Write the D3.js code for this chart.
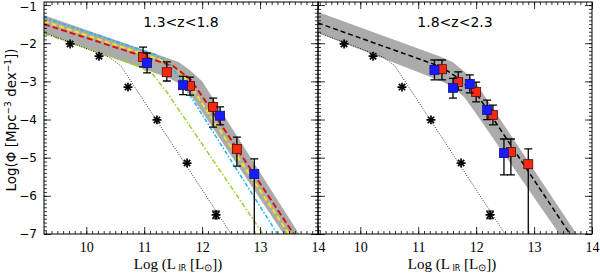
<!DOCTYPE html>
<html>
<head>
<meta charset="utf-8">
<script src="https://cdn.jsdelivr.net/npm/d3@7"></script>
<style>
body { margin: 0; background: #fff; }
</style>
</head>
<body>
<svg id="chart"></svg>
<script>
const xTicks = [10, 11, 12, 13, 14];
const yTicks = [-1, -2, -3, -4, -5, -6, -7];
const panelTitles = ['1.3<z<1.8', '1.8<z<2.3'];

// local luminosity function (asterisks + dotted fit), same in both panels
const localL = [9.72, 10.22, 10.72, 11.22, 11.74, 12.24];
const localPhi = [-2.02, -2.34, -3.15, -4.01, -5.14, -6.5];
const localErr = [0, 0, 0, 0, 0, 0.1];
const localFitL = [9.27, 10.4, 10.6, 12.5];
const localFitPhi = [-1.72, -2.37, -2.6, -7.0];

// 1.3<z<1.8
const bandL = [9.27, 11.4, 11.6, 11.8, 12.0, 13.8];
const band1Hi = [-1.27, -2.39, -2.5, -2.72, -3.0, -7.3];
const band1Lo = [-1.73, -2.9, -3.05, -3.35, -3.8, -7.9];
const cyanL = [9.27, 11.2, 11.45, 11.7, 13.3];
const cyanPhi = [-1.33, -2.3, -2.55, -3.15, -7.0];
const yellowL = [9.27, 11.4, 11.65, 11.9, 13.5];
const yellowPhi = [-1.42, -2.5, -2.8, -3.35, -7.0];
const redFitL = [9.27, 11.5, 11.8, 12.05, 13.58];
const redFitPhi = [-1.5, -2.6, -2.95, -3.5, -7.0];
const greenL = [9.27, 10.9, 11.15, 11.4, 13.05];
const greenPhi = [-1.75, -2.6, -2.82, -3.3, -7.0];

const red1L = [10.98, 11.39, 11.79, 12.19, 12.6];
const red1Phi = [-2.36, -2.76, -3.12, -3.67, -4.77];
const red1Hi = [-2.1, -2.49, -2.89, -3.44, -4.46];
const red1Lo = [-2.62, -2.99, -3.36, -4.2, -5.22];
const blue1L = [11.05, 11.67, 12.31, 12.9];
const blue1Phi = [-2.52, -3.1, -3.9, -5.43];
const blue1Hi = [-2.26, -2.87, -3.67, -5.03];
const blue1Lo = [-2.78, -3.35, -4.14, -7.0];

// 1.8<z<2.3
const band2Hi = [-1.18, -2.36, -2.5, -2.75, -3.05, -7.15];
const band2Lo = [-1.73, -3.0, -3.15, -3.42, -3.85, -7.8];
const fit2L = [9.27, 11.4, 11.7, 12.05, 13.62];
const fit2Phi = [-1.47, -2.62, -2.92, -3.42, -7.0];

const red2L = [11.41, 11.69, 12.0, 12.29, 12.6, 12.9];
const red2Phi = [-2.68, -3.02, -3.28, -3.88, -4.85, -5.17];
const red2Hi = [-2.44, -2.75, -3.02, -3.62, -4.51, -4.77];
const red2Lo = [-2.96, -3.23, -3.54, -4.14, -5.45, -7.0];
const blue2L = [11.28, 11.6, 11.89, 12.19, 12.48];
const blue2Phi = [-2.70, -3.17, -3.07, -3.75, -4.88];
const blue2Hi = [-2.44, -2.92, -2.83, -3.49, -4.51];
const blue2Lo = [-2.96, -3.44, -3.3, -4.0, -5.45];

const width = 600, height = 273;
const plotTop = 2, plotBottom = 234;

const svg = d3.select('#chart')
    .attr('width', width)
    .attr('height', height);

const pts = (xs, ys) => xs.map((d, i) => [d, ys[i]]);
const bars = (xs, ys, hi, lo) => xs.map((d, i) => ({x: d, y: ys[i], hi: hi[i], lo: lo[i]}));

const panels = [
    {
        left: 44, right: 318, title: panelTitles[0],
        band: bandL.map((d, i) => ({x: d, hi: band1Hi[i], lo: band1Lo[i]})),
        lines: [
            {data: pts(greenL, greenPhi), color: '#9ad12f', dash: '5,2,1.5,2', w: 1.5},
            {data: pts(cyanL, cyanPhi), color: '#18b4f0', dash: '4,2,1.5,2', w: 1.5},
            {data: pts(yellowL, yellowPhi), color: '#f2e51a', dash: '5,3', w: 2},
            {data: pts(redFitL, redFitPhi), color: '#d81010', dash: '6,3', w: 2}
        ],
        blue: bars(blue1L, blue1Phi, blue1Hi, blue1Lo),
        red: bars(red1L, red1Phi, red1Hi, red1Lo),
        yLabels: true
    },
    {
        left: 318, right: 592, title: panelTitles[1],
        band: bandL.map((d, i) => ({x: d, hi: band2Hi[i], lo: band2Lo[i]})),
        lines: [
            {data: pts(fit2L, fit2Phi), color: '#000', dash: '5,3', w: 1.5}
        ],
        blue: bars(blue2L, blue2Phi, blue2Hi, blue2Lo),
        red: bars(red2L, red2Phi, red2Hi, red2Lo),
        yLabels: false
    }
];

const y = d3.scaleLinear().domain([-7, -0.92]).range([plotBottom, plotTop]);

panels.forEach((p, k) => {
    const x = d3.scaleLinear().domain([9.27, 14]).range([p.left, p.right]);
    const line = d3.line().x(d => x(d[0])).y(d => y(d[1]));
    const g = svg.append('g');

    g.append('clipPath').attr('id', 'clip' + k)
        .append('rect')
        .attr('x', p.left).attr('y', plotTop)
        .attr('width', p.right - p.left).attr('height', plotBottom - plotTop);

    const plot = g.append('g').attr('clip-path', `url(#clip${k})`);

    plot.append('path')
        .datum(p.band)
        .attr('fill', '#ababab')
        .attr('d', d3.area()
            .x(d => x(d.x))
            .y0(d => y(d.lo))
            .y1(d => y(d.hi)));

    p.lines.forEach(l => {
        plot.append('path')
            .datum(l.data)
            .attr('fill', 'none')
            .attr('stroke', l.color)
            .attr('stroke-width', l.w)
            .attr('stroke-dasharray', l.dash)
            .attr('d', line);
    });

    plot.append('path')
        .datum(pts(localFitL, localFitPhi))
        .attr('fill', 'none')
        .attr('stroke', '#000')
        .attr('stroke-width', 0.8)
        .attr('stroke-dasharray', '1,1.5')
        .attr('d', line);

    // asterisks
    const stars = localL.map((d, i) => ({x: d, y: localPhi[i], e: localErr[i]}));
    stars.filter(d => d.e > 0).forEach(d => {
        plot.append('path')
            .attr('stroke', '#000').attr('stroke-width', 1.2)
            .attr('d', `M${x(d.x)},${y(d.y + d.e)}V${y(d.y - d.e)}` +
                `M${x(d.x) - 4},${y(d.y + d.e)}h8M${x(d.x) - 4},${y(d.y - d.e)}h8`);
    });
    [d3.symbolPlus, d3.symbolX].forEach(sym => {
        plot.selectAll(null)
            .data(stars)
            .enter()
            .append('path')
            .attr('transform', d => `translate(${x(d.x)},${y(d.y)})`)
            .attr('d', d3.symbol(sym, 28))
            .attr('fill', 'none')
            .attr('stroke', '#000')
            .attr('stroke-width', 1.7);
    });

    // error bars and squares
    const drawPoints = (data, fill, stroke) => {
        plot.selectAll(null)
            .data(data)
            .enter()
            .append('path')
            .attr('stroke', '#000')
            .attr('stroke-width', 1.3)
            .attr('fill', 'none')
            .attr('d', d => `M${x(d.x)},${y(d.hi)}V${y(d.lo)}` +
                `M${x(d.x) - 4},${y(d.hi)}h8` +
                (d.lo > -7 ? `M${x(d.x) - 4},${y(d.lo)}h8` : ''));
        plot.selectAll(null)
            .data(data)
            .enter()
            .append('rect')
            .attr('x', d => x(d.x) - 4.5)
            .attr('y', d => y(d.y) - 4.5)
            .attr('width', 9)
            .attr('height', 9)
            .attr('fill', fill)
            .attr('stroke', stroke)
            .attr('stroke-width', 0.8);
    };
    drawPoints(p.red, '#f22a10', '#5a0a00');
    drawPoints(p.blue, '#1a1aff', '#10108a');

    // axes: ticks point inward, like IDL
    const minorX = d3.range(93, 141).map(d => d / 10);
    const minorY = d3.range(-70, -9).map(d => d / 10);
    const addAxis = (axis, tx, ty) => {
        const a = g.append('g').attr('transform', `translate(${tx},${ty})`).call(axis);
        a.select('.domain').remove();
        a.selectAll('line').attr('stroke', '#000').attr('stroke-width', 0.8);
        return a;
    };
    const bx = addAxis(d3.axisBottom(x).tickValues(xTicks).tickSize(-7).tickPadding(8)
        .tickFormat(d3.format('d')), 0, plotBottom);
    bx.selectAll('text')
        .attr('font-family', 'Liberation Serif, serif')
        .attr('font-size', 14)
        .attr('fill', '#000');
    addAxis(d3.axisBottom(x).tickValues(minorX).tickSize(-3).tickFormat(''), 0, plotBottom);
    addAxis(d3.axisTop(x).tickValues(xTicks).tickSize(-7).tickFormat(''), 0, plotTop);
    addAxis(d3.axisTop(x).tickValues(minorX).tickSize(-3).tickFormat(''), 0, plotTop);

    const ly = addAxis(d3.axisLeft(y).tickValues(yTicks).tickSize(-7).tickPadding(7)
        .tickFormat(p.yLabels ? d3.format('d') : ''), p.left, 0);
    ly.selectAll('text')
        .attr('font-family', 'DejaVu Sans, sans-serif')
        .attr('font-size', 12)
        .attr('fill', '#000');
    ly.selectAll('.tick:first-of-type text, .tick text').filter(d => d === -1).attr('dy', '0.45em');
    addAxis(d3.axisLeft(y).tickValues(minorY).tickSize(-3).tickFormat(''), p.left, 0);
    addAxis(d3.axisRight(y).tickValues(yTicks).tickSize(-7).tickFormat(''), p.right, 0);
    addAxis(d3.axisRight(y).tickValues(minorY).tickSize(-3).tickFormat(''), p.right, 0);

    g.append('rect')
        .attr('x', p.left).attr('y', plotTop)
        .attr('width', p.right - p.left).attr('height', plotBottom - plotTop)
        .attr('fill', 'none')
        .attr('stroke', '#000')
        .attr('stroke-width', 1);

    g.append('text')
        .attr('x', (p.left + p.right) / 2)
        .attr('y', 27)
        .attr('text-anchor', 'middle')
        .attr('font-family', 'DejaVu Sans, sans-serif')
        .attr('font-size', 14)
        .text(p.title);

    const xt = g.append('text')
        .attr('x', (p.left + p.right) / 2 - 3)
        .attr('y', 269)
        .attr('text-anchor', 'middle')
        .attr('font-family', 'Liberation Serif, serif')
        .attr('font-size', 15);
    xt.append('tspan').text('Log (L');
    xt.append('tspan').attr('font-size', 8).attr('font-family', 'DejaVu Sans, sans-serif')
        .attr('dy', 2).text(' IR');
    xt.append('tspan').attr('dy', -2).text('  [L');
    xt.append('tspan').attr('font-size', 10).attr('dy', 2).text('⊙');
    xt.append('tspan').attr('dy', -2).text('])');
});

const yt = svg.append('text')
    .attr('transform', `translate(16,${(plotTop + plotBottom) / 2 + 2}) rotate(-90)`)
    .attr('text-anchor', 'middle')
    .attr('font-family', 'DejaVu Sans, sans-serif')
    .attr('font-size', 13.5);
yt.append('tspan').text('Log(Φ [Mpc');
yt.append('tspan').attr('font-size', 9).attr('dy', -5).text('−3');
yt.append('tspan').attr('dy', 5).text(' dex');
yt.append('tspan').attr('font-size', 9).attr('dy', -5).text('−1');
yt.append('tspan').attr('dy', 5).text('])');
</script>
</body>
</html>
